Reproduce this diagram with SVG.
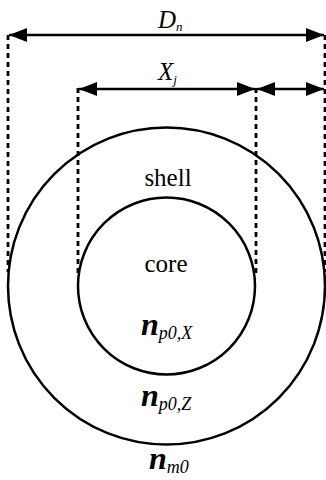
<svg xmlns="http://www.w3.org/2000/svg" width="326" height="480" viewBox="0 0 326 480">
<style>
.c{fill:none;stroke:#000;stroke-width:2.5}
.d{stroke:#000;stroke-width:2.8;stroke-dasharray:5,4}
.a{stroke:#000;stroke-width:2.5}
.t{font-family:"Liberation Serif",serif;fill:#000}
.n{font-family:"Liberation Serif",serif;font-style:italic;font-weight:bold;font-size:32px}
.s{font-family:"Liberation Serif",serif;font-style:italic;font-size:18px}
</style>
<defs>
<marker id="ah2" viewBox="0 0 18 14" refX="18" refY="7" markerWidth="18" markerHeight="14" markerUnits="userSpaceOnUse" orient="auto-start-reverse"><path d="M0,0L18,7L0,14z" fill="#000"/></marker>
</defs>
<g id="outer"><circle class="c" cx="166.5" cy="286" r="158.5"/></g>
<g id="inner"><circle class="c" cx="166.5" cy="286" r="88.5"/></g>
<g id="connectors">
<line class="d" x1="8" y1="35" x2="8" y2="272"/>
<line class="d" x1="325" y1="35" x2="325" y2="272"/>
<line class="d" x1="78" y1="88" x2="78" y2="275"/>
<line class="d" x1="256" y1="88" x2="256" y2="275"/>
<line class="a" x1="9" y1="35" x2="324" y2="35" marker-start="url(#ah2)" marker-end="url(#ah2)"/>
<line class="a" x1="79" y1="89" x2="255" y2="89" marker-start="url(#ah2)" marker-end="url(#ah2)"/>
<line class="a" x1="257" y1="89" x2="324" y2="89" marker-start="url(#ah2)" marker-end="url(#ah2)"/>
</g>
<g id="labels">
<text class="t" x="158" y="28" font-size="25" font-style="italic">D<tspan font-size="13" dy="3">n</tspan></text>
<text class="t" x="158" y="80" font-size="25" font-style="italic">X<tspan font-size="13" dy="4">j</tspan></text>
<text class="t" x="168" y="186" font-size="25" text-anchor="middle">shell</text>
<text class="t" x="166" y="272" font-size="25" text-anchor="middle">core</text>
<text class="t" x="141" y="335"><tspan class="n">n</tspan><tspan class="s" dy="4">p0,X</tspan></text>
<text class="t" x="141" y="406"><tspan class="n">n</tspan><tspan class="s" dy="4">p0,Z</tspan></text>
<text class="t" x="149" y="469"><tspan class="n">n</tspan><tspan class="s" dy="4">m0</tspan></text>
</g>
</svg>
